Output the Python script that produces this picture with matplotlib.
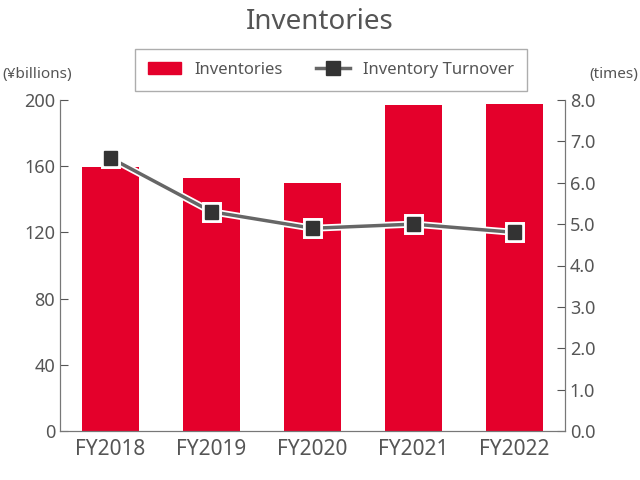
import matplotlib.pyplot as plt
import matplotlib.patheffects as pe
from matplotlib.lines import Line2D
from matplotlib.patches import Patch

years = ["FY2018", "FY2019", "FY2020", "FY2021", "FY2022"]
inventories = [159.5, 153, 150, 197, 197.6]
turnover = [6.6, 5.3, 4.9, 5.0, 4.8]

red = "#e4002b"
grey = "#555555"
plt.rcParams["font.family"] = "Noto Sans"

fig = plt.figure(figsize=(6.4, 4.8), dpi=100)
ax = fig.add_axes([60/640, 1-431/480, 505/640, 331/480])
x = range(len(years))
ax.bar(x, inventories, width=0.56, color=red, zorder=2)
ax.set_ylim(0, 200)
ax.set_yticks(range(0, 201, 40))
ax.set_xlim(-0.5, 4.5)
ax.set_xticks(list(x))
ax.set_xticklabels(years)
ax.tick_params(axis="x", labelsize=15, colors=grey, length=0, pad=6)
ax.tick_params(axis="y", labelsize=13, colors=grey, direction="in", length=6)
for s in ["top"]:
    ax.spines[s].set_visible(False)
for s in ax.spines.values():
    s.set_color("#777777")

ax2 = ax.twinx()
ax2.plot(x, turnover, color="#666666", lw=2.5, marker="s", ms=10,
         mfc="#333333", mec="#333333",
         path_effects=[pe.Stroke(linewidth=5, foreground="white"), pe.Normal()], zorder=3)
ax2.set_ylim(0, 8)
ax2.set_yticks([i for i in range(9)])
ax2.set_yticklabels([f"{i:.1f}" for i in range(9)])
ax2.tick_params(axis="y", labelsize=13, colors=grey, direction="in", length=6)
ax2.spines["top"].set_visible(False)
for s in ax2.spines.values():
    s.set_color("#777777")

fig.text(0.5, 0.955, "Inventories", ha="center", va="center", fontsize=20, color=grey)
fig.text(0.003, 0.845, "(¥billions)", ha="left", va="center", fontsize=11, color=grey)
fig.text(0.997, 0.845, "(times)", ha="right", va="center", fontsize=11, color=grey)

handles = [Patch(color=red),
           Line2D([0], [0], color="#666666", lw=2.5, marker="s", ms=10, mfc="#333333", mec="#333333")]
leg = fig.legend(handles, ["Inventories", "Inventory Turnover"], loc="center",
                 bbox_to_anchor=(331/640, 1-70/480), ncol=2, fontsize=12, frameon=True,
                 fancybox=False, edgecolor="#999999", borderpad=0.8, columnspacing=2.0,
                 handlelength=2.0)
for t in leg.get_texts():
    t.set_color(grey)
leg.get_frame().set_linewidth(1.0)

fig.savefig("out.png", dpi=100)
